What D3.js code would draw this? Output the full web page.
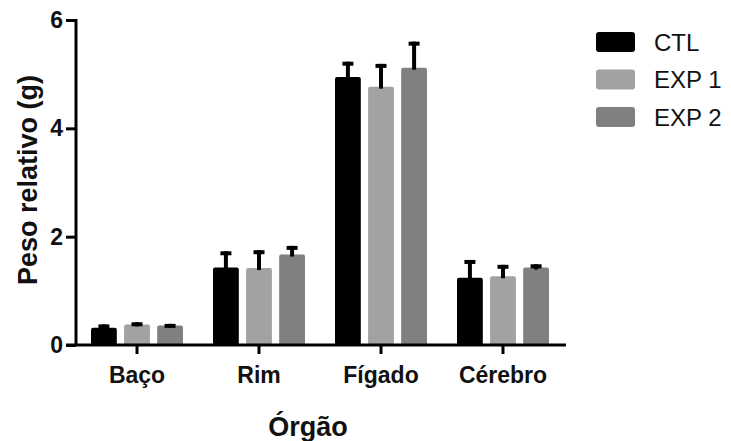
<!DOCTYPE html>
<html>
<head>
<meta charset="utf-8">
<script src="https://cdn.jsdelivr.net/npm/d3@7"></script>
<style>
  body { margin: 0; background: #fff; }
  svg { font-family: "Liberation Sans", Arial, sans-serif; }
  .axis path, .axis line { stroke: #000; stroke-width: 3; }
  .axis text { font-size: 23px; font-weight: bold; fill: #111; font-family: "Liberation Sans", Arial, sans-serif; }
</style>
</head>
<body>
<script>
// chart data
var organs = ["Baço", "Rim", "Fígado", "Cérebro"];
var groups = ["CTL", "EXP 1", "EXP 2"];
var ctlMean = [0.32, 1.43, 4.95, 1.24];
var ctlErr = [0.06, 0.30, 0.28, 0.33];
var exp1Mean = [0.38, 1.42, 4.77, 1.27];
var exp1Err = [0.04, 0.33, 0.42, 0.21];
var exp2Mean = [0.36, 1.67, 5.12, 1.43];
var exp2Err = [0.03, 0.16, 0.48, 0.06];
var yTicks = [0, 2, 4, 6];
var colors = ["#000000", "#a2a2a5", "#808080"];

var svgWidth = 731;
var svgHeight = 441;

var svg = d3.select("body")
  .append("svg")
  .attr("width", svgWidth)
  .attr("height", svgHeight);

// build rows from the arrays
var means = [ctlMean, exp1Mean, exp2Mean];
var errs = [ctlErr, exp1Err, exp2Err];
var rows = [];
organs.forEach(function(o, i) {
  groups.forEach(function(g, j) {
    rows.push({ organ: o, group: g, value: means[j][i], err: errs[j][i] });
  });
});

// scales
var xScale = d3.scaleBand()
  .domain(organs)
  .range([76, 564]);

var xInner = d3.scaleBand()
  .domain(groups)
  .range([0, 92])
  .paddingInner(0.22)
  .paddingOuter(0);

var yScale = d3.scaleLinear()
  .domain([0, 6])
  .range([345, 20]);

var color = d3.scaleOrdinal().domain(groups).range(colors);

var offset = (xScale.bandwidth() - 92) / 2;

// bars
svg.selectAll("rect.bar")
  .data(rows)
  .enter()
  .append("rect")
  .attr("class", "bar")
  .attr("x", d => xScale(d.organ) + offset + xInner(d.group))
  .attr("y", d => yScale(d.value))
  .attr("width", xInner.bandwidth())
  .attr("height", d => yScale(0) - yScale(d.value))
  .attr("rx", 2)
  .attr("fill", d => color(d.group));

// error bars (upper only)
var errG = svg.selectAll("g.err")
  .data(rows)
  .enter()
  .append("g")
  .attr("class", "err")
  .attr("transform", d => `translate(${xScale(d.organ) + offset + xInner(d.group) + xInner.bandwidth() / 2}, 0)`);

errG.append("line")
  .attr("x1", 0)
  .attr("x2", 0)
  .attr("y1", d => yScale(d.value) + 2)
  .attr("y2", d => yScale(d.value + d.err))
  .attr("stroke", "#000")
  .attr("stroke-width", 4);

errG.append("line")
  .attr("x1", -5.5)
  .attr("x2", 5.5)
  .attr("y1", d => yScale(d.value + d.err) + 2)
  .attr("y2", d => yScale(d.value + d.err) + 2)
  .attr("stroke", "#000")
  .attr("stroke-width", 4);

// axes
svg.append("g")
  .attr("class", "axis")
  .attr("transform", "translate(0, 345)")
  .call(d3.axisBottom(xScale).tickSize(9).tickSizeOuter(0).tickPadding(13))
  .call(g => g.select(".domain").attr("d", "M66,0H566"));

svg.append("g")
  .attr("class", "axis")
  .attr("transform", "translate(76, 0)")
  .call(d3.axisLeft(yScale).tickValues(yTicks).tickFormat(d3.format("d")).tickSize(10).tickSizeOuter(0).tickPadding(3))
  .call(g => g.select(".domain").attr("d", "M0,19V346"));

// axis labels
svg.append("text")
  .attr("transform", "rotate(-90)")
  .attr("x", -180)
  .attr("y", 37)
  .attr("text-anchor", "middle")
  .attr("font-size", "27px")
  .attr("font-weight", "bold")
  .attr("fill", "#111")
  .text("Peso relativo (g)");

svg.append("text")
  .attr("x", 308)
  .attr("y", 436)
  .attr("text-anchor", "middle")
  .attr("font-size", "27px")
  .attr("font-weight", "bold")
  .attr("fill", "#111")
  .text("Órgão");

// legend
var legend = svg.selectAll("g.legend")
  .data(groups)
  .enter()
  .append("g")
  .attr("class", "legend")
  .attr("transform", (d, i) => `translate(596, ${32 + i * 37.5})`);

legend.append("rect")
  .attr("width", 39)
  .attr("height", 20)
  .attr("rx", 3)
  .attr("fill", d => color(d));

legend.append("text")
  .attr("x", 58)
  .attr("y", 10)
  .attr("dy", "0.36em")
  .attr("font-size", "24px")
  .attr("fill", "#111")
  .text(d => d);
</script>
</body>
</html>
